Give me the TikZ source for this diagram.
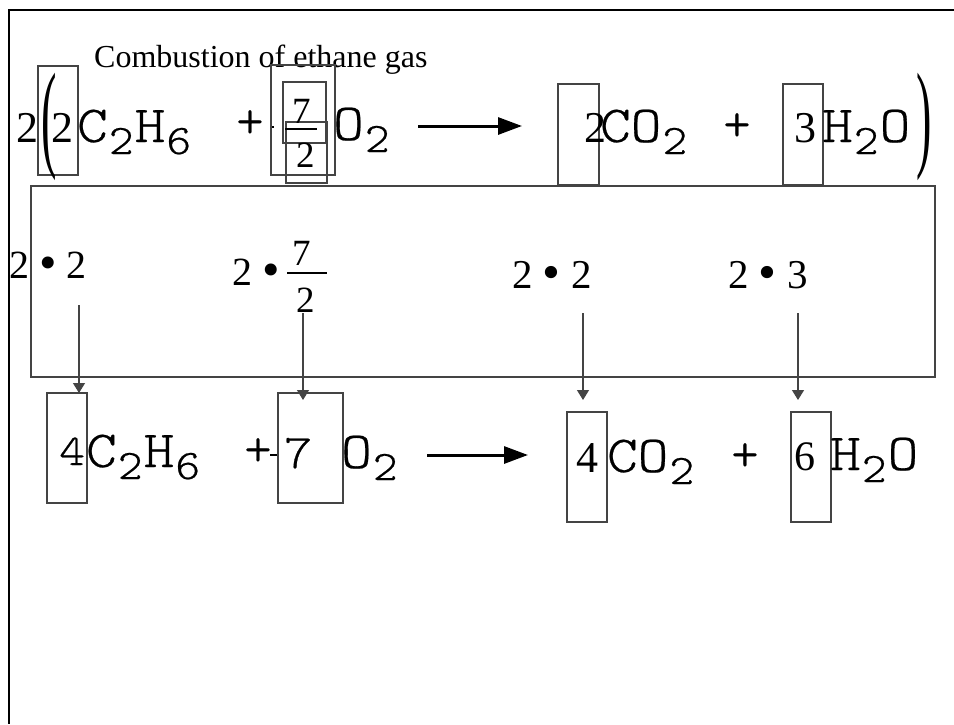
\documentclass[tikz,border=0pt]{standalone}
\usepackage{fontspec}
\usepackage{graphicx}
\setmainfont{Liberation Serif}
\newfontfamily\cour[FakeBold=0.5]{Latin Modern Mono Light}
\usetikzlibrary{arrows.meta}
\newcommand{\tm}[1]{\fontsize{#1}{#1}\selectfont}
\newcommand{\fsub}[1]{\kern1pt\raisebox{-12pt}{\cour\tm{42}#1}\kern1pt}
\newcommand{\fx}[1]{\scalebox{1.12}[1]{#1}}
\newcommand{\bul}{\raisebox{-1pt}{\scalebox{1.25}{\textbullet}}}
\definecolor{boxgray}{HTML}{444444}
\begin{document}
\begin{tikzpicture}[x=1pt,y=-1pt,
  box/.style={draw=boxgray,line width=1.3pt},
  txt/.style={inner sep=0pt,anchor=base west},
  ctxt/.style={inner sep=0pt,anchor=center},
  frm/.style={font={\cour\tm{52}}},
  big/.style={font=\tm{44}},
  mid/.style={font=\tm{40}},
  thinarrow/.style={draw=boxgray,line width=1.3pt,-{Triangle[length=10pt,width=12pt]}},
  bigarrow/.style={draw=black,line width=3pt,-{Triangle[length=24pt,width=17pt]}}]
\useasboundingbox (0,0) rectangle (954,724);
% frame
\draw[line width=2.5pt] (8,10) -- (954,10);
\draw[line width=2.5pt] (9,10) -- (9,724);
% middle rectangle
\draw[box] (31,186) rectangle (935,377);
% title
\node[txt,font=\tm{32}] (title) at (94,67) {Combustion of ethane gas};
% ---------- top row ----------
\draw[box] (38,66) rectangle (78,175);
\node[txt,big] (o2) at (16,142) {2};
\node[ctxt,big] (lp) at (49,127) {\scalebox{1.05}[2.7]{(}};
\node[txt,big] (i2) at (51,142) {2};
\node[txt,frm] (c2h6a) at (77,142) {\fx{C\fsub{2}H\fsub{6}}};
\node[ctxt,frm] (plusa) at (250,124) {+};
\draw[line width=1.2pt] (270,127) -- (274,127);
\draw[box] (271,65) rectangle (335,175);
\draw[box] (283,82) rectangle (326,143);
\draw[box] (286,122) rectangle (327,183);
\node[txt,font=\tm{37}] (sevena) at (292,123) {7};
\node[txt,font=\tm{37}] (twoa) at (296,167) {2};
\draw[line width=1.3pt] (285,129) -- (317,129);
\node[txt,frm] (o2a) at (333,140) {\fx{O\fsub{2}}};
\coordinate (arrAs) at (418,126);
\coordinate (arrAe) at (522,126);
\draw[bigarrow] (arrAs) -- (arrAe);
\draw[box] (558,84) rectangle (599,185);
\node[txt,big] (cfa) at (584,142) {2};
\node[txt,frm] (co2a) at (600,142) {\fx{CO\fsub{2}}};
\node[ctxt,frm] (plusb) at (737,127) {+};
\draw[box] (783,84) rectangle (823,185);
\node[txt,big] (three) at (794,142) {3};
\node[txt,frm] (h2oa) at (822,142) {\fx{H\fsub{2}O}};
\node[ctxt,big] (rp) at (924,127) {\scalebox{1.05}[2.7]{)}};
% ---------- middle row ----------
\node[txt,mid] (m1) at (9,278) {2 \bul{} 2};
\node[txt,mid] (m2) at (232,285) {2 \bul};
\node[txt,font=\tm{37}] (m2n) at (292,265) {7};
\node[txt,font=\tm{37}] (m2d) at (296,312) {2};
\draw[line width=1.3pt] (287,273) -- (327,273);
\node[txt,font=\tm{41}] (m3) at (512,288) {2 \bul{} 2};
\node[txt,font=\tm{41}] (m4) at (728,288) {2 \bul{} 3};
% arrows
\coordinate (a1s) at (79,305); \coordinate (a1e) at (79,393);
\coordinate (a2s) at (303,313); \coordinate (a2e) at (303,400);
\coordinate (a3s) at (583,313); \coordinate (a3e) at (583,400);
\coordinate (a4s) at (798,313); \coordinate (a4e) at (798,400);
\draw[thinarrow] (a1s) -- (a1e);
\draw[thinarrow] (a2s) -- (a2e);
\draw[thinarrow] (a3s) -- (a3e);
\draw[thinarrow] (a4s) -- (a4e);
% ---------- bottom row ----------
\draw[box] (47,393) rectangle (87,503);
\node[txt,font={\cour\tm{44}}] (four) at (59,465) {\fx{4}};
\node[txt,frm] (c2h6b) at (86,467) {\fx{C\fsub{2}H\fsub{6}}};
\node[ctxt,frm] (plusc) at (258,452) {+};
\draw[line width=1.2pt] (270,455) -- (278,455);
\draw[box] (278,393) rectangle (343,503);
\node[txt,font={\cour\tm{48}}] (seven) at (284,468) {\fx{7}};
\node[txt,frm] (o2b) at (341,468) {\fx{O\fsub{2}}};
\coordinate (arrBs) at (427,455);
\coordinate (arrBe) at (528,455);
\draw[bigarrow] (arrBs) -- (arrBe);
\draw[box] (567,412) rectangle (607,522);
\node[txt,big] (fourb) at (576,472) {4};
\node[txt,frm] (co2b) at (607,472) {\fx{CO\fsub{2}}};
\node[ctxt,frm] (plusd) at (745,457) {+};
\draw[box] (791,412) rectangle (831,522);
\node[txt,font=\tm{42}] (six) at (794,470) {6};
\node[txt,frm] (h2ob) at (830,470) {\fx{H\fsub{2}O}};
\end{tikzpicture}
\end{document}
